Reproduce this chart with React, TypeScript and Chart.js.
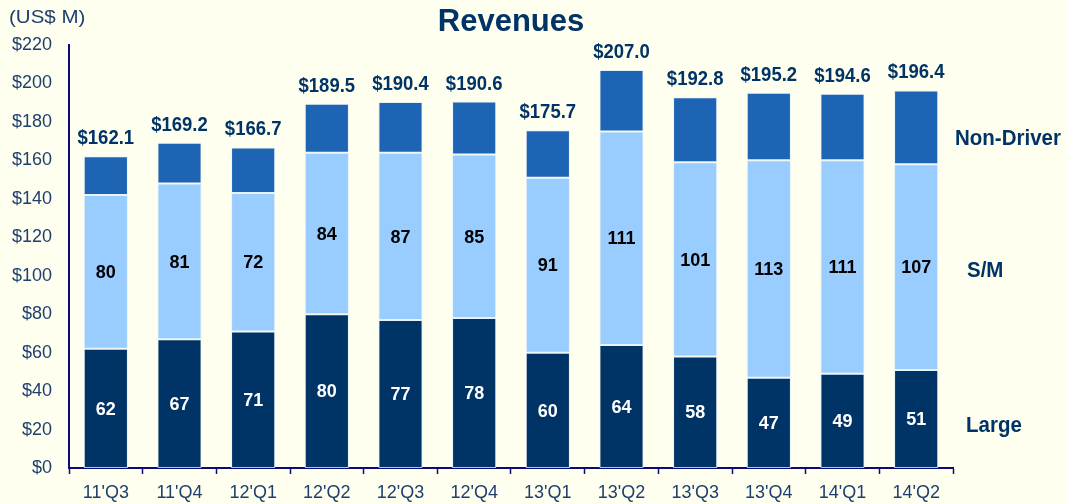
import React, { useEffect, useRef } from "react";
import { Chart, registerables } from "chart.js";

Chart.register(...registerables);

const categories = ["11'Q3", "11'Q4", "12'Q1", "12'Q2", "12'Q3", "12'Q4", "13'Q1", "13'Q2", "13'Q3", "13'Q4", "14'Q1", "14'Q2"];
const large = [62, 67, 71, 80, 77, 78, 60, 64, 58, 47, 49, 51];
const sm = [80, 81, 72, 84, 87, 85, 91, 111, 101, 113, 111, 107];
const nonDriver = [20.1, 21.2, 23.7, 25.5, 26.4, 27.6, 24.7, 32.0, 33.8, 35.2, 34.6, 38.4];
const totals = [162.1, 169.2, 166.7, 189.5, 190.4, 190.6, 175.7, 207.0, 192.8, 195.2, 194.6, 196.4];
const seriesNames = ["Large", "S/M", "Non-Driver"];
const yTicks = [0, 20, 40, 60, 80, 100, 120, 140, 160, 180, 200, 220];

const NAVY = "#003366";
const LIGHT = "#99CCFF";
const MID = "#1E64B4";
const BG = "#FFFFEF";
const AXIS = "#0A0A78";
const TICK = "#1F3F6F";
const FONT = "'Liberation Sans', Arial, sans-serif";

function drawText(ctx: any, text: string, x: number, y: number, font: string, color: string, align: string, baseline: string, sx = 1, sy = 1) {
  ctx.save();
  ctx.translate(x, y);
  ctx.scale(sx, sy);
  ctx.font = font;
  ctx.fillStyle = color;
  ctx.textAlign = align;
  ctx.textBaseline = baseline;
  ctx.fillText(text, 0, 0);
  ctx.restore();
}

const labelsPlugin = {
  id: "customLabels",
  afterDatasetsDraw(chart: any) {
    const ctx = chart.ctx;
    const ys = chart.scales.y;
    const area = chart.chartArea;
    // segment labels
    [0, 1].forEach((di) => {
      const meta = chart.getDatasetMeta(di);
      meta.data.forEach((bar: any, i: number) => {
        const v = chart.data.datasets[di].data[i];
        drawText(ctx, String(v), bar.x, (bar.y + bar.base) / 2 + 1, `bold 18px ${FONT}`, di === 0 ? "#FFFFFF" : "#000000", "center", "middle", 1, 1.05);
      });
    });
    // totals
    const top = chart.getDatasetMeta(2);
    top.data.forEach((bar: any, i: number) => {
      drawText(ctx, "$" + totals[i].toFixed(1), bar.x, bar.y - 12, `bold 18.5px ${FONT}`, NAVY, "center", "alphabetic", 1, 1.12);
    });
    // series names at right
    const last = categories.length - 1;
    const lx = area.right + 2;
    const lv = large[last];
    const sv = sm[last];
    const nv = nonDriver[last];
    const f = `bold 20.5px ${FONT}`;
    drawText(ctx, seriesNames[2], lx, ys.getPixelForValue(lv + sv + nv / 2) + 11, f, NAVY, "left", "middle", 1, 1.12);
    drawText(ctx, seriesNames[1], lx + 12, ys.getPixelForValue(lv + sv / 2) + 4, f, NAVY, "left", "middle", 1, 1.12);
    drawText(ctx, seriesNames[0], lx + 11, ys.getPixelForValue(lv / 2) + 7, f, NAVY, "left", "middle", 1, 1.12);
    // title
    drawText(ctx, "Revenues", (area.left + area.right) / 2, 22, `bold 31px ${FONT}`, NAVY, "center", "middle", 1, 1.04);
    // unit
    drawText(ctx, "(US$ M)", 9, 18, `19px ${FONT}`, TICK, "left", "middle", 1.08, 1);
  },
};

const bgPlugin = {
  id: "bg",
  beforeDraw(chart: any) {
    const ctx = chart.ctx;
    ctx.save();
    ctx.fillStyle = BG;
    ctx.fillRect(0, 0, chart.width, chart.height);
    ctx.restore();
  },
};

export default function App() {
  const ref = useRef<HTMLCanvasElement>(null);
  useEffect(() => {
    if (!ref.current) return;
    const mk = (label: string, data: number[], color: string) => ({
      label,
      data,
      backgroundColor: color,
      borderColor: "rgba(225,240,255,0.8)",
      borderWidth: 1,
      borderSkipped: false,
      barPercentage: 0.6,
      categoryPercentage: 1,
    });
    const chart = new Chart(ref.current, {
      type: "bar",
      data: {
        labels: categories,
        datasets: [mk(seriesNames[0], large, NAVY), mk(seriesNames[1], sm, LIGHT), mk(seriesNames[2], nonDriver, MID)],
      },
      options: {
        responsive: false,
        animation: false,
        layout: { padding: { left: 0, right: 115, top: 45, bottom: 0 } },
        plugins: { legend: { display: false }, title: { display: false }, tooltip: { enabled: false } },
        scales: {
          x: {
            stacked: true,
            afterFit: (s: any) => { s.height = 36; },
            grid: { display: true, drawOnChartArea: false, tickLength: 6, color: AXIS, offset: true, tickWidth: 1.5 },
            border: { display: true, color: AXIS, width: 2 },
            ticks: { color: TICK, font: { family: FONT, size: 18 }, padding: 8 },
          },
          y: {
            stacked: true,
            min: 0,
            max: 220,
            afterFit: (s: any) => { s.width = 69; },
            afterBuildTicks: (s: any) => { s.ticks = yTicks.map((v) => ({ value: v })); },
            grid: { display: false, drawTicks: false },
            border: { display: true, color: AXIS, width: 2 },
            ticks: {
              color: TICK,
              font: { family: FONT, size: 18 },
              padding: 17,
              callback: (v: any) => "$" + v,
            },
          },
        },
      },
      plugins: [bgPlugin, labelsPlugin],
    } as any);
    return () => chart.destroy();
  }, []);
  return (
    <div style={{ position: "fixed", left: 0, top: 0, width: 1068, height: 504, background: BG }}>
      <canvas ref={ref} width={1068} height={504} style={{ display: "block" }} />
    </div>
  );
}
